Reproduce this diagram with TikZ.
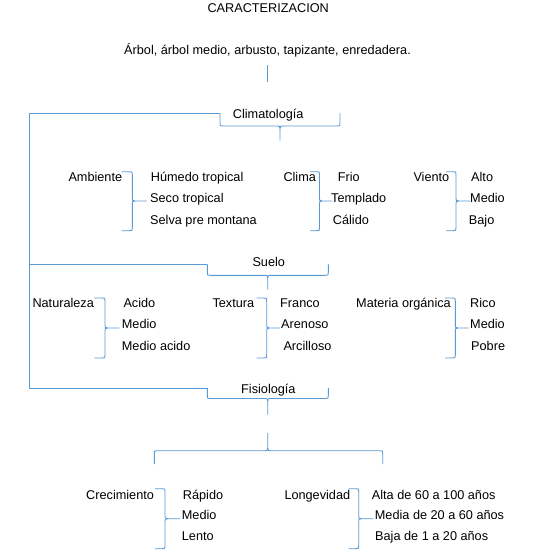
\documentclass[tikz,border=0pt]{standalone}
\usepackage{fontspec}
\setmainfont{Liberation Sans}
\definecolor{brc}{HTML}{5B9BD5}
\newcommand\rbr[6]{% hx, vx, yt, ym, yb, tipend
 \draw[br] (#1,#3) -- ({#2-3},#3) .. controls (#2,#3) .. (#2,{#3+3}) -- (#2,{#4-2.5}) .. controls (#2,{#4-0.5}) .. ({#2+2.5},#4) -- (#6,#4);
 \draw[br] (#1,#5) -- ({#2-3},#5) .. controls (#2,#5) .. (#2,{#5-3}) -- (#2,{#4+2.5}) .. controls (#2,{#4+0.5}) .. ({#2+2.5},#4);
}
\newcommand\ubr[6]{% xl, xr, yends, yh, xm, ytip (tip down)
 \draw[br] (#1,#3) -- (#1,{#4-3}) .. controls (#1,#4) .. ({#1+3},#4) -- ({#5-2.5},#4) .. controls ({#5-0.5},#4) .. (#5,{#4+2.5}) -- (#5,#6);
 \draw[br] (#2,#3) -- (#2,{#4-3}) .. controls (#2,#4) .. ({#2-3},#4) -- ({#5+2.5},#4) .. controls ({#5+0.5},#4) .. (#5,{#4+2.5});
}
\newcommand\obr[6]{% xl, xr, yends, yh, xm, ytip (tip up)
 \draw[br] (#1,#3) -- (#1,{#4+3}) .. controls (#1,#4) .. ({#1+3},#4) -- ({#5-2.5},#4) .. controls ({#5-0.5},#4) .. (#5,{#4-2.5}) -- (#5,#6);
 \draw[br] (#2,#3) -- (#2,{#4+3}) .. controls (#2,#4) .. ({#2-3},#4) -- ({#5+2.5},#4) .. controls ({#5+0.5},#4) .. (#5,{#4-2.5});
}
\begin{document}
\begin{tikzpicture}[x=1pt,y=-1pt,
  txt/.style={anchor=base west, inner sep=0pt, font=\fontsize{12.7}{15}\selectfont},
  br/.style={draw=brc, line width=0.9pt, line join=round}]
\useasboundingbox[fill=white] (0,0) rectangle (553,557);
% titles
\node[txt] (title) at (207.3,12) {CARACTERIZACION};
\node[txt] (tipos) at (124,54.3) {Árbol, árbol medio, arbusto, tapizante, enredadera.};
\coordinate (v1) at (267.3,65);
\coordinate (v2) at (267.3,82.3);
\draw[br] (v1) -- (v2);
% main left line
\coordinate (L0) at (29,113);
\coordinate (L1) at (29,264.3);
\coordinate (L2) at (29,388);
\coordinate (C0) at (220,113);
\coordinate (S0) at (207.3,264.3);
\coordinate (F0) at (207.3,388);
\draw[br] (C0) -- (L0) -- (L2) -- (F0);
\draw[br] (L1) -- (S0);
% Climatologia
\node[txt] (clim) at (232.7,118.3) {Climatología};
\ubr{220}{340}{113}{126}{280}{140.7}
\node[txt] (amb) at (68.3,181) {Ambiente};
\node[txt] (amb1) at (150.7,181) {Húmedo tropical};
\node[txt] (amb2) at (150,202.3) {Seco tropical};
\node[txt] (amb3) at (150,224) {Selva pre montana};
\rbr{121.7}{132.3}{171.7}{201}{230.7}{146.7}
\node[txt] (cli) at (283.3,181) {Clima};
\node[txt] (cli1) at (337.7,181) {Frio};
\node[txt] (cli2) at (331,202.3) {Templado};
\node[txt] (cli3) at (332.7,224) {Cálido};
\rbr{310}{319.5}{171.7}{201}{230.7}{332}
\node[txt] (vie) at (413.3,181) {Viento};
\node[txt] (vie1) at (471,181) {Alto};
\node[txt] (vie2) at (470,202.3) {Medio};
\node[txt] (vie3) at (468.7,224) {Bajo};
\rbr{446}{456}{171.7}{201}{230.7}{470}
% Suelo
\node[txt] (sue) at (252.3,266.7) {Suelo};
\ubr{207.3}{328.3}{264.3}{275.3}{267.7}{289.7}
\node[txt] (nat) at (32.3,307.3) {Naturaleza};
\node[txt] (nat1) at (123.3,307.3) {Acido};
\node[txt] (nat2) at (121.7,328.7) {Medio};
\node[txt] (nat3) at (121.7,350.7) {Medio acido};
\rbr{94.3}{105}{298}{328}{358}{119.3}
\node[txt] (tex) at (212.3,307.3) {Textura};
\node[txt] (tex1) at (280,307.3) {Franco};
\node[txt] (tex2) at (281,328.7) {Arenoso};
\node[txt] (tex3) at (283.3,350.7) {Arcilloso};
\rbr{256.7}{266.7}{298}{328}{358}{280}
\node[txt] (mat) at (356,307.3) {Materia orgánica};
\node[txt] (mat1) at (470,307.3) {Rico};
\node[txt] (mat2) at (470,328.7) {Medio};
\node[txt] (mat3) at (471,350.7) {Pobre};
\rbr{445}{455.3}{298}{328}{358}{468.7}
% Fisiologia
\node[txt] (fis) at (241,393) {Fisiología};
\ubr{207.3}{328.3}{388}{398.5}{267.7}{414.7}
\obr{154.3}{382.7}{464}{450.7}{267.7}{433}
\node[txt] (cre) at (86,499) {Crecimiento};
\node[txt] (cre1) at (182.7,499) {Rápido};
\node[txt] (cre2) at (181.7,519.7) {Medio};
\node[txt] (cre3) at (181.7,540.7) {Lento};
\rbr{155}{165}{488.7}{518.7}{548.7}{180}
\node[txt] (lon) at (284.3,499) {Longevidad};
\node[txt] (lon1) at (371.7,499) {Alta de 60 a 100 años};
\node[txt] (lon2) at (374.7,519.7) {Media de 20 a 60 años};
\node[txt] (lon3) at (375,540.7) {Baja de 1 a 20 años};
\rbr{348.7}{358.7}{488.7}{518.7}{548.7}{373.3}
\end{tikzpicture}
\end{document}
